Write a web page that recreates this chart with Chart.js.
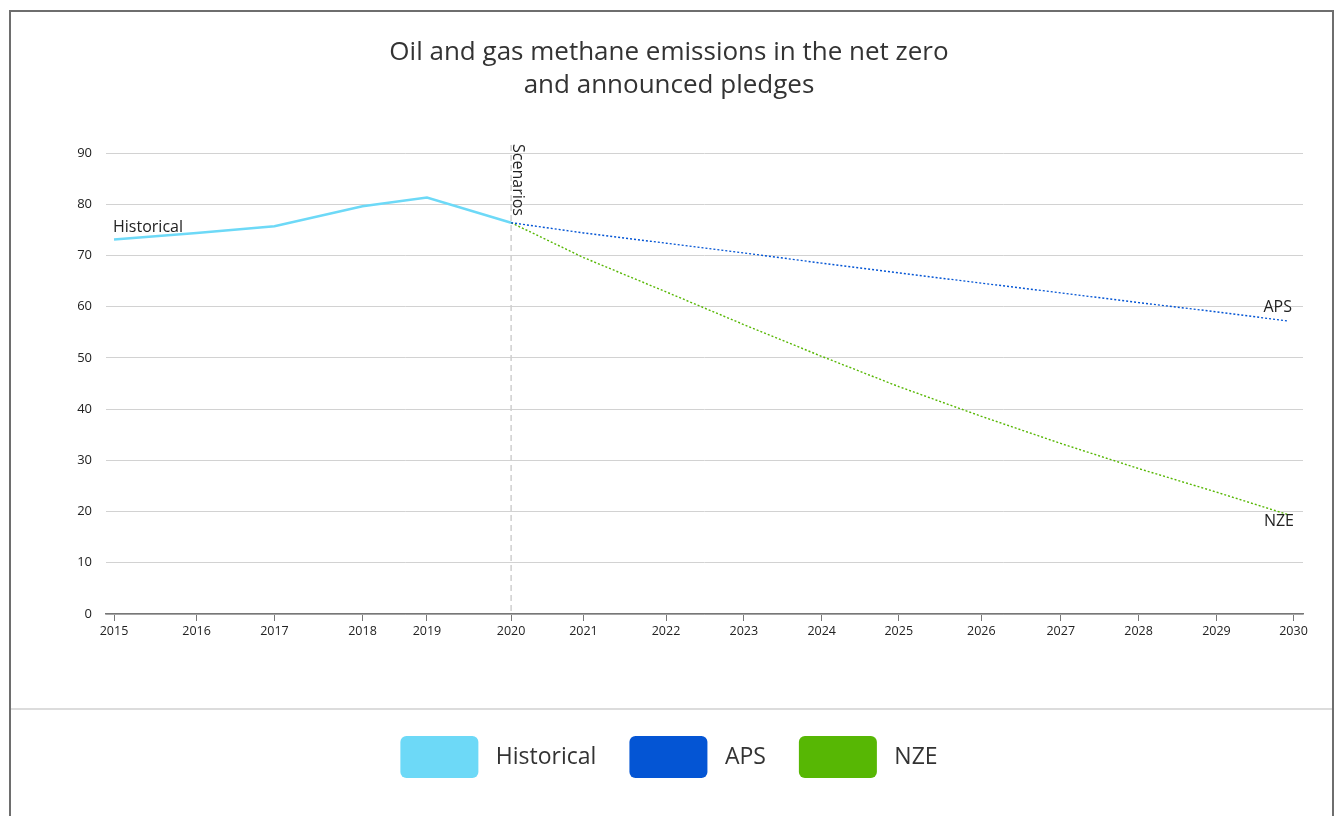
<!DOCTYPE html>
<html>
<head>
<meta charset="utf-8">
<script src="https://cdn.jsdelivr.net/npm/chart.js@4/dist/chart.umd.min.js"></script>
<style>
    html, body { margin: 0; padding: 0; background: #fff; }
    #wrap { width: 1338px; height: 816px; }
</style>
</head>
<body>
<div id="wrap"><canvas id="chart" width="1338" height="816"></canvas></div>
<script>
// tick labels and where they sit on the time axis (the source axis is not evenly spaced)
const yearLabels = ['2015', '2016', '2017', '2018', '2019', '2020', '2021', '2022', '2023', '2024', '2025', '2026', '2027', '2028', '2029', '2030'];
const yearPos = [2015.0, 2016.05, 2017.04, 2018.16, 2018.98, 2020.05, 2020.97, 2022.02, 2023.01, 2024.0, 2024.98, 2026.03, 2027.04, 2028.03, 2029.02, 2030.0];

const historical = [73.1, 74.4, 75.7, 79.6, 81.3, 76.4];
const scenarioPos = yearPos.slice(5, 15).concat([2029.93]);
const aps = [76.4, 74.4, 72.4, 70.5, 68.5, 66.6, 64.6, 62.7, 60.8, 59.0, 57.2];
const nze = [76.4, 69.6, 62.9, 56.5, 50.3, 44.4, 38.6, 33.3, 28.4, 23.8, 19.4];

const colors = { historical: '#6dd9f7', aps: '#0455d4', nze: '#57b704' };

Chart.defaults.font.family = "'Open Sans', 'Noto Sans', sans-serif";
Chart.defaults.color = '#222';

function toPoints(xs, ys) {
    return ys.map((y, i) => ({ x: xs[i], y: y }));
}

// frame, separator, scenario marker and series labels
const decorations = {
    id: 'decorations',
    beforeDraw(chart) {
        const ctx = chart.ctx;
        ctx.save();
        ctx.fillStyle = '#fff';
        ctx.fillRect(0, 0, chart.width, chart.height);
        ctx.strokeStyle = '#6e6e6e';
        ctx.lineWidth = 2;
        ctx.beginPath();
        ctx.moveTo(10, 830);
        ctx.lineTo(10, 11);
        ctx.lineTo(1333, 11);
        ctx.lineTo(1333, 830);
        ctx.stroke();
        ctx.strokeStyle = '#dcdcdc';
        ctx.beginPath();
        ctx.moveTo(11, 709);
        ctx.lineTo(1332, 709);
        ctx.stroke();
        ctx.restore();
    },
    beforeDatasetsDraw(chart) {
        const ctx = chart.ctx;
        const x = chart.scales.x.getPixelForValue(yearPos[5]);
        const area = chart.chartArea;
        ctx.save();
        ctx.strokeStyle = '#cfcfcf';
        ctx.lineWidth = 1.5;
        ctx.setLineDash([6, 4]);
        ctx.beginPath();
        ctx.moveTo(x, area.top - 8);
        ctx.lineTo(x, area.bottom);
        ctx.stroke();
        ctx.restore();
    },
    afterDatasetsDraw(chart) {
        const ctx = chart.ctx;
        const xs = chart.scales.x;
        const ys = chart.scales.y;
        ctx.save();
        ctx.fillStyle = '#222';
        ctx.font = "16px 'Open Sans', sans-serif";

        ctx.textAlign = 'left';
        ctx.textBaseline = 'alphabetic';
        ctx.fillText('Historical', xs.getPixelForValue(yearPos[0]) - 1, ys.getPixelForValue(historical[0]) - 8);

        const last = scenarioPos.length - 1;
        ctx.textAlign = 'right';
        ctx.fillText('APS', xs.getPixelForValue(scenarioPos[last]) + 4, ys.getPixelForValue(aps[last]) - 9);
        ctx.textBaseline = 'top';
        ctx.fillText('NZE', xs.getPixelForValue(scenarioPos[last]) + 6, ys.getPixelForValue(nze[last]) - 1);

        // rotated marker text next to the 2020 line
        const sx = xs.getPixelForValue(yearPos[5]);
        ctx.translate(sx + 2, chart.chartArea.top - 9);
        ctx.rotate(Math.PI / 2);
        ctx.textAlign = 'left';
        ctx.textBaseline = 'alphabetic';
        ctx.fillText('Scenarios', 0, 0);
        ctx.restore();
    }
};

const ctx = document.getElementById('chart').getContext('2d');
const chart = new Chart(ctx, {
    type: 'line',
    data: {
        datasets: [{
            label: 'Historical',
            data: toPoints(yearPos, historical),
            borderColor: colors.historical,
            backgroundColor: colors.historical,
            borderWidth: 2.5,
            pointRadius: 0
        }, {
            label: 'APS',
            data: toPoints(scenarioPos, aps),
            borderColor: colors.aps,
            backgroundColor: colors.aps,
            borderWidth: 1.4,
            borderDash: [2, 2],
            pointRadius: 0
        }, {
            label: 'NZE',
            data: toPoints(scenarioPos, nze),
            borderColor: colors.nze,
            backgroundColor: colors.nze,
            borderWidth: 1.4,
            borderDash: [2, 2],
            pointRadius: 0
        }]
    },
    options: {
        responsive: false,
        animation: false,
        layout: {
            padding: { left: 35, right: 35, top: 0, bottom: 28 }
        },
        plugins: {
            title: {
                display: true,
                text: ['Oil and gas methane emissions in the net zero', 'and announced pledges'],
                color: '#333',
                font: { size: 26, weight: 'normal', lineHeight: 1.27 },
                padding: { top: 36, bottom: 51 }
            },
            legend: {
                position: 'bottom',
                labels: {
                    boxWidth: 78,
                    boxHeight: 42,
                    padding: 33,
                    color: '#333',
                    font: { size: 23 },
                    useBorderRadius: true,
                    borderRadius: 6,
                    generateLabels: function (chart) {
                        return chart.data.datasets.map((ds, i) => ({
                            text: ' ' + ds.label,
                            fillStyle: ds.borderColor,
                            strokeStyle: ds.borderColor,
                            lineWidth: 0,
                            lineDash: [],
                            fontColor: '#333',
                            borderRadius: 6,
                            datasetIndex: i
                        }));
                    }
                }
            },
            tooltip: { enabled: false }
        },
        scales: {
            x: {
                type: 'linear',
                min: 2014.898,
                max: 2030.121,
                afterBuildTicks: function (scale) {
                    scale.ticks = yearPos.map(v => ({ value: v }));
                },
                afterFit: function (scale) {
                    scale.height = 89;
                },
                ticks: {
                    autoSkip: false,
                    maxRotation: 0,
                    padding: 3,
                    color: '#222',
                    font: { size: 12.5 },
                    callback: function (value, index) {
                        return yearLabels[index];
                    }
                },
                grid: {
                    drawOnChartArea: false,
                    drawTicks: true,
                    tickLength: 7,
                    color: '#777'
                },
                border: { display: true, color: '#777', width: 1.5 }
            },
            y: {
                min: 0,
                max: 90,
                afterFit: function (scale) {
                    scale.width = 71;
                },
                ticks: {
                    stepSize: 10,
                    padding: 14,
                    color: '#222',
                    font: { size: 13 }
                },
                grid: {
                    color: '#d2d2d2',
                    lineWidth: 1,
                    drawTicks: false
                },
                border: { display: false }
            }
        }
    },
    plugins: [decorations]
});
</script>
</body>
</html>
